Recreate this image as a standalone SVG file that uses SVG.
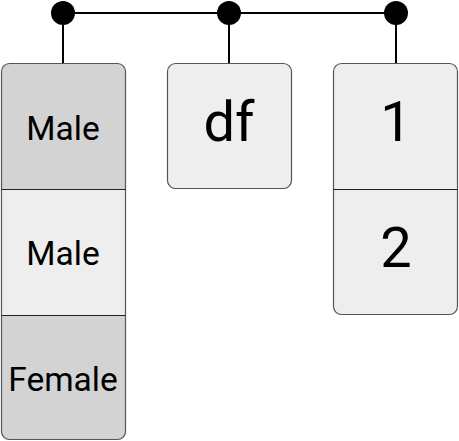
<svg xmlns="http://www.w3.org/2000/svg" width="459" height="441" viewBox="0 0 459 441">
<style>
.box{stroke:#555;stroke-width:1.2}
.div{stroke:#222;stroke-width:1.2}
.dark{fill:#d3d3d3}
.light{fill:#eeeeee}
.t{font-family:Roboto,"Liberation Sans",sans-serif;fill:#000;text-anchor:middle}
.s{font-size:33.5px}
.l{font-size:56px}
.con{stroke:#000;stroke-width:2;fill:none}
.dot{fill:#000}
</style>
<g id="connectors">
<path class="con" d="M63 13 H396 M63 13 V63 M229 13 V63 M396 13 V63"/>
<circle class="dot" cx="63" cy="13" r="12"/>
<circle class="dot" cx="229" cy="13" r="12"/>
<circle class="dot" cx="396" cy="13" r="12"/>
</g>
<g id="node-gender">
<path class="dark" d="M1.5 189.5 V71.5 Q1.5 63.5 9.5 63.5 H117.5 Q125.5 63.5 125.5 71.5 V189.5 Z"/>
<rect class="light" x="1.5" y="189.5" width="124" height="126"/>
<path class="dark" d="M1.5 315.5 H125.5 V431.5 Q125.5 439.5 117.5 439.5 H9.5 Q1.5 439.5 1.5 431.5 Z"/>
<rect class="box" fill="none" x="1.5" y="63.5" width="124" height="376" rx="8"/>
<line class="div" x1="1.5" y1="189.5" x2="125.5" y2="189.5"/>
<line class="div" x1="1.5" y1="315.5" x2="125.5" y2="315.5"/>
<text class="t s" x="63" y="140">Male</text>
<text class="t s" x="63" y="265">Male</text>
<text class="t s" x="63" y="391">Female</text>
</g>
<g id="node-df">
<rect class="box light" x="167.5" y="63.5" width="124" height="125" rx="8"/>
<text class="t l" x="229" y="141">df</text>
</g>
<g id="node-values">
<rect class="box light" x="333.5" y="63.5" width="124" height="251" rx="8"/>
<line class="div" x1="333.5" y1="189.5" x2="457.5" y2="189.5"/>
<text class="t l" x="396" y="141">1</text>
<text class="t l" x="396" y="267">2</text>
</g>
</svg>
